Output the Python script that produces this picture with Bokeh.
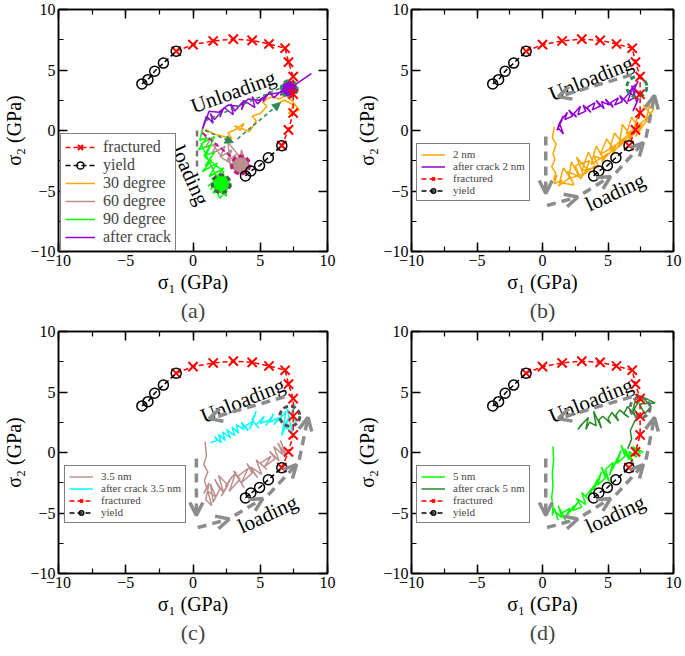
import math
from bokeh.plotting import figure
from bokeh.models import (Range1d, LinearAxis, SingleIntervalTicker, Arrow, OpenHead, NormalHead,
                          Legend, LegendItem, Title, ColumnDataSource)
from bokeh.layouts import row, column
from bokeh.embed import file_html
from bokeh.resources import INLINE
from bokeh.core.properties import value

FONT = "Liberation Serif, DejaVu Serif, serif"
NAN = float("nan")

# ---------------- common envelopes ----------------
fractured_x = [-1.25, 0.0, 1.5, 3.0, 4.4, 5.65, 6.85, 7.1, 7.45, 7.45, 7.45, 7.1, 6.6]
fractured_y = [6.55, 7.1, 7.4, 7.55, 7.45, 7.15, 6.8, 5.65, 4.45, 3.0, 1.45, 0.05, -1.25]
yield_x = [-3.8, -3.35, -2.85, -2.2, -1.25, NAN, 3.9, 4.3, 4.95, 5.6, 6.6]
yield_y = [3.85, 4.2, 4.9, 5.57, 6.55, NAN, -3.75, -3.35, -2.9, -2.25, -1.25]

# ---------------- panel (a) ----------------
a30_x = [0.9, 1.6, 2.3, 2.9, 2.6, 3.2, 3.8, 3.5, 3.1, 4.2, 4.7, 4.4, 5.0, 5.5, 5.2, 5.5, 5.9, 6.4, 6.9, 6.6, 7.4, 7.9, 7.1, 7.5, 6.8, 6.2]
a30_y = [0.1, -0.3, -0.5, -0.7, -0.2, 0.1, 0.6, 0.0, 0.4, -0.1, 0.8, 1.2, 1.4, 2.0, 2.3, 2.6, 2.8, 2.6, 2.9, 3.2, 2.4, 1.7, 1.4, 2.1, 2.5, 2.2]
a60_x = [0.6, 1.2, 0.9, 1.8, 1.4, 2.4, 2.0, 2.9, 2.5, 3.2, 2.8, 2.6, 3.0, 3.6, 3.3, 4.0, 3.4, 3.6, 3.9, 3.3, 2.2, 1.5]
a60_y = [0.0, -0.9, -1.4, -1.1, -1.9, -1.3, -2.2, -1.6, -2.6, -2.0, -3.2, -1.0, -1.5, -2.4, -3.5, -2.9, -3.3, -1.6, -2.7, -3.0, -2.3, -1.2]
a90_x = [0.7, 0.5, 1.0, 0.4, 1.3, 0.8, 1.6, 0.9, 1.4, 0.7, 1.8, 1.2, 2.3, 1.5, 2.6, 1.1, 1.9, 1.5, 2.8, 2.0, 1.7, 2.5, 2.2, 1.4, 2.0, 2.9, 2.1, 1.2, 0.6, 1.6, 0.9, 2.3, 1.3]
a90_y = [0.1, -0.8, -0.6, -1.6, -1.2, -2.1, -1.8, -2.9, -2.4, -3.4, -2.7, -3.8, -3.1, -4.2, -3.8, -4.6, -4.0, -5.2, -4.4, -5.6, -4.9, -5.4, -4.1, -3.9, -4.8, -4.6, -4.5, -2.6, -1.1, -0.5, -2.2, -3.4, -4.9]
acrack_x = [8.8, 7.6, 7.3, 7.0, 6.5, 6.8, 6.0, 5.7, 5.2, 5.5, 4.8, 4.4, 4.6, 3.9, 3.6, 3.8, 3.1, 2.8, 3.0, 2.3, 2.0, 2.2, 1.6, 1.3, 1.5, 1.0, 0.8, 0.9, 0.7, 1.2, 1.9, 2.6, 3.4, 4.1, 4.9, 5.6, 6.3, 7.0]
acrack_y = [4.7, 3.8, 3.2, 3.6, 2.9, 3.5, 2.7, 3.2, 2.4, 3.0, 2.2, 2.8, 1.9, 2.4, 1.7, 2.5, 1.6, 2.2, 1.3, 1.9, 1.1, 1.7, 0.9, 1.4, 0.6, 1.2, 0.4, 0.9, 0.1, 1.6, 1.5, 2.1, 2.0, 2.6, 2.5, 3.0, 3.1, 3.3]
# big end-point circles in (a): purple, rosy, green
a_end_x = [7.15, 3.55, 2.1]
a_end_y = [3.45, -2.85, -4.4]
# dashed guides in (a)
a_green_arrow = dict(x0=[0.9, 3.3], y0=[0.0, -0.7], x1=[3.0, 6.5], y1=[-1.0, 2.3])
a_green_line_x = [0.9, 6.9]
a_green_line_y = [0.8, 3.7]
a_pink_line_x = [0.7, 3.3]
a_pink_line_y = [-0.2, -2.6]
a_gray_line_x = [0.3, 0.3]
a_gray_line_y = [0.0, -3.3]
a_text_x = [3.0, -0.2]
a_text_y = [3.2, -3.7]
a_text = ["Unloading", "loading"]
a_text_angle_deg = [20, -66]

# ---------------- panel (b) ----------------
b2_x = [0.9, 0.75, 1.05, 0.8, 0.95, 0.7, 1.0, 0.85, 1.1, 0.9, 1.5, 1.2, 2.1, 1.6, 1.3, 2.4, 1.9, 2.8, 2.2, 2.0, 3.1, 2.6, 3.4, 2.9, 2.5, 3.6, 3.2, 4.0, 3.5, 3.0, 4.3, 3.9, 4.7, 4.1, 3.7, 5.0, 4.5, 5.4, 4.9, 4.4, 5.6, 5.2, 6.0, 5.5, 5.1, 6.3, 5.8, 6.7, 6.1, 5.9, 6.9, 6.5, 7.3, 6.8, 6.4, 7.6, 7.1, 8.0, 7.4, 7.0, 8.3, 7.7, 8.5, 7.9, 8.2]
b2_y = [0.3, -0.6, -1.1, -1.9, -2.4, -3.0, -3.5, -4.1, -3.7, -4.4, -4.1, -4.6, -3.9, -3.1, -4.3, -4.5, -3.4, -3.8, -2.6, -4.0, -3.6, -2.2, -3.2, -4.0, -2.9, -2.5, -3.6, -2.9, -1.8, -3.3, -3.0, -2.1, -2.4, -1.3, -2.8, -1.9, -2.6, -1.5, -0.7, -2.0, -1.2, -2.2, -0.9, -0.2, -1.6, -0.6, -1.4, -0.4, 0.5, -0.9, -0.1, -1.0, 0.3, 1.1, -0.3, 0.6, -0.5, 0.9, 1.6, 0.2, 1.3, 2.1, 1.8, 0.8, 2.3]
bcrack_x = [7.3, 7.0, 7.4, 6.8, 7.2, 6.9, 7.3, 6.6, 7.1, 7.0, 6.5, 6.8, 6.2, 6.5, 5.9, 6.1, 5.5, 5.8, 5.2, 5.4, 4.8, 5.1, 4.5, 4.7, 4.1, 4.4, 3.8, 4.0, 3.4, 3.7, 3.1, 3.3, 2.7, 2.9, 2.4, 2.6, 2.0, 2.3, 1.7, 1.9, 1.4, 1.6, 1.2, 1.5, 1.1, 1.3, 1.6, 1.2]
bcrack_y = [4.1, 3.4, 2.9, 3.7, 2.3, 1.6, 2.6, 3.2, 3.8, 2.7, 2.4, 3.3, 2.6, 2.2, 2.9, 2.4, 2.1, 2.7, 2.3, 1.9, 2.6, 2.1, 2.4, 1.8, 2.5, 2.0, 1.7, 2.3, 1.9, 1.5, 2.1, 1.6, 1.3, 2.0, 1.4, 1.1, 1.7, 1.2, 0.9, 1.5, 0.8, 1.2, 0.4, 0.9, 0.0, 0.6, -0.3, 0.2]
b_ring_x, b_ring_y = [7.2], [3.6]

# ---------------- panel (c) ----------------
c35_x = [0.9, 1.0, 0.8, 1.1, 0.85, 1.0, 0.8, 1.2, 0.95, 1.4, 1.1, 1.7, 1.3, 1.5, 2.0, 1.6, 2.3, 1.9, 2.6, 2.1, 2.9, 2.4, 3.2, 2.7, 3.5, 3.0, 3.8, 3.3, 4.1, 3.6, 4.4, 4.0, 4.8, 4.3, 5.1, 4.7, 5.5, 5.0, 5.8, 5.3, 6.1, 5.7, 6.4, 6.0, 6.7, 6.3, 7.0, 6.5]
c35_y = [0.9, -0.3, -1.0, -1.6, -2.3, -2.9, -3.4, -2.5, -3.9, -4.4, -3.2, -3.7, -2.6, -4.1, -3.0, -2.2, -3.4, -1.9, -2.7, -3.6, -2.0, -2.8, -1.6, -3.2, -2.2, -1.5, -2.9, -2.0, -1.3, -2.5, -1.7, -0.9, -2.1, -1.2, -1.8, -0.6, -1.4, -0.9, -0.3, -1.2, -0.5, 0.1, -0.7, 0.5, -0.2, 0.8, -0.4, 1.0]
ccrack_x = [7.6, 7.3, 7.7, 7.0, 7.4, 6.8, 7.2, 6.6, 6.9, 6.3, 6.7, 6.0, 6.4, 5.7, 6.0, 5.4, 5.7, 5.0, 5.3, 4.7, 4.9, 4.4, 4.7, 4.2, 4.5, 3.9, 4.1, 3.6, 3.8, 3.2, 3.4, 2.9, 3.1, 2.5, 2.8, 2.2, 2.4, 1.9, 2.1, 1.6, 1.8, 1.3]
ccrack_y = [4.0, 3.2, 2.5, 3.6, 1.6, 2.2, 3.0, 1.4, 3.4, 2.6, 3.1, 2.3, 2.9, 2.5, 3.2, 2.2, 2.7, 2.4, 3.0, 2.3, 2.0, 2.7, 3.4, 1.9, 2.6, 2.2, 1.8, 2.5, 1.9, 2.3, 1.6, 2.1, 1.4, 1.9, 1.2, 1.7, 1.0, 1.5, 0.8, 1.3, 1.0, 0.8]
c_ring_x, c_ring_y = [7.2], [3.0]

# ---------------- panel (d) ----------------
d5_x = [0.8, 0.85, 0.75, 0.8, 0.7, 0.8, 0.75, 0.9, 1.2, 1.0, 1.5, 1.2, 1.8, 1.5, 2.1, 1.7, 2.4, 2.0, 2.7, 2.3, 3.0, 2.6, 3.3, 3.0, 3.6, 3.3, 3.9, 3.6, 4.2, 3.9, 4.5, 4.2, 4.8, 4.5, 5.1, 4.8, 5.4, 5.1, 5.7, 5.4, 6.0, 5.7, 6.3, 6.0, 6.6, 6.3, 6.9, 6.6, 7.2, 6.9, 7.5, 7.1, 7.7]
d5_y = [0.5, -0.6, -1.7, -2.8, -3.7, -4.5, -5.2, -4.6, -5.6, -4.9, -5.4, -4.4, -5.7, -5.0, -4.6, -5.5, -4.4, -5.0, -4.1, -4.8, -4.5, -3.8, -4.3, -3.3, -4.0, -3.6, -2.8, -3.5, -2.2, -3.1, -1.6, -2.7, -2.1, -1.2, -2.4, -1.4, -0.8, -1.9, -0.5, -1.3, 0.2, -0.9, -0.3, 0.6, -0.6, 0.3, -0.9, 0.1, -0.4, 0.5, -0.1, 0.4, 0.0]
dcrack_x = [6.5, 6.8, 6.7, 7.0, 7.3, 7.0, 7.6, 8.3, 7.8, 7.4, 8.6, 7.2, 6.9, 7.1, 6.5, 6.2, 6.6, 5.9, 5.6, 5.8, 5.3, 5.0, 5.2, 4.6, 4.3, 4.5, 3.9, 4.1, 3.6, 3.3, 3.5, 2.9, 2.7, 3.0]
dcrack_y = [0.3, 1.1, 1.8, 2.5, 3.0, 3.6, 4.6, 3.8, 3.2, 4.0, 4.1, 4.8, 3.5, 3.0, 3.8, 3.2, 2.9, 3.5, 3.1, 2.6, 3.3, 2.8, 2.4, 3.0, 2.7, 2.0, 3.4, 2.2, 2.5, 1.9, 2.9, 2.2, 1.9, 2.3]
d_ring_x, d_ring_y = [7.45], [3.7]

# gray guide arrows shared by (b), (c), (d)
guide_x0 = [6.8, 0.25, 0.35, 3.1, 5.6, 7.9]
guide_y0 = [4.6, -0.5, -6.2, -5.2, -3.5, -0.6]
guide_x1 = [1.2, 0.25, 2.7, 5.2, 7.7, 8.55]
guide_y1 = [2.8, -5.2, -5.5, -3.8, -1.0, 2.9]
bcd_text_x = [3.7, 5.55]
bcd_text_y = [4.3, -5.1]
bcd_text = ["Unloading", "loading"]
bcd_text_angle_deg = [22, 25]

# colours
ORANGE, ROSY, LIME, VIOLET = "#FFA500", "#BC8F8F", "#00FF00", "#9400D3"
CYAN, DKGREEN, SEAGREEN, PINK = "#00FFFF", "#228B22", "#2E8B57", "#C71585"
GRAY = "#8C8C8C"

FH = 242


def make_fig(frame_w, left, right, tag):
    p = figure(x_range=Range1d(-10, 10), y_range=Range1d(-10, 10),
               frame_width=frame_w, frame_height=FH,
               min_border_left=left, min_border_right=right, min_border_top=9, min_border_bottom=0,
               output_backend="svg", toolbar_location=None, tools="")
    p.grid.visible = False
    p.outline_line_color = "black"
    p.outline_line_width = 1.5
    p.background_fill_color = "white"
    p.border_fill_color = "white"
    p.xaxis.axis_label = "σ₁ (GPa)"
    p.yaxis.axis_label = "σ₂ (GPa)"
    for ax in (p.xaxis[0], p.yaxis[0]):
        ax.ticker = SingleIntervalTicker(interval=5, num_minor_ticks=2)
        ax.major_tick_in = 9
        ax.major_tick_out = 0
        ax.minor_tick_in = 5
        ax.minor_tick_out = 0
        ax.axis_line_width = 1.5
        ax.major_tick_line_width = 1.5
        ax.minor_tick_line_width = 1.2
        ax.major_label_text_font = FONT
        ax.major_label_text_font_size = "16px"
        ax.major_label_text_color = "black"
        ax.axis_label_text_font = FONT
        ax.axis_label_text_font_size = "20px"
        ax.axis_label_text_font_style = "normal"
        ax.axis_label_text_color = "black"
        ax.major_label_standoff = 3
        ax.axis_label_standoff = 2
    for loc in ("right", "above"):
        ax = LinearAxis(ticker=SingleIntervalTicker(interval=5, num_minor_ticks=2),
                        major_tick_in=9, major_tick_out=0, minor_tick_in=5, minor_tick_out=0,
                        axis_line_width=1.5, major_tick_line_width=1.5, minor_tick_line_width=1.2,
                        major_label_text_font_size="6px", major_label_text_color=None,
                        major_label_standoff=0)
        p.add_layout(ax, loc)
    t = Title(text=tag, align="center", text_font=FONT, text_font_size="22px",
              text_font_style="normal", standoff=0, offset=0)
    p.add_layout(t, "below")
    return p


def add_envelopes(p):
    fl = p.line(fractured_x, fractured_y, line_color="red", line_width=1.5, line_dash="5 3")
    fs = p.scatter(fractured_x, fractured_y, marker="x", size=13, line_color="red", line_width=2)
    yl = p.line(yield_x, yield_y, line_color="black", line_width=1.5, line_dash="5 3")
    ys = p.scatter(yield_x, yield_y, marker="circle", size=10, line_color="black",
                   line_width=1.5, fill_color=None)
    return [fl, fs], [yl, ys]


def add_text(p, xs, ys, txt, angles):
    p.text(x=xs, y=ys, text=txt, angle=[math.radians(a) for a in angles],
           text_font=value(FONT), text_font_size="21px", text_align="center",
           text_baseline="middle", text_color="black")


def add_guides(p):
    src = ColumnDataSource(dict(x0=guide_x0, y0=guide_y0, x1=guide_x1, y1=guide_y1))
    p.add_layout(Arrow(x_start="x0", y_start="y0", x_end="x1", y_end="y1", source=src,
                       line_color=GRAY, line_width=3.5, line_dash="9 6",
                       end=OpenHead(size=13, line_color=GRAY, line_width=3.5)))


def make_legend(items, font, gw, gh, loc):
    lg = Legend(items=items, location=loc, border_line_color="black", border_line_width=1.5,
                background_fill_color="white", background_fill_alpha=1.0,
                label_text_font=FONT, label_text_font_size=font,
                glyph_width=gw, glyph_height=gh, label_height=gh, spacing=0,
                padding=4, margin=0, label_standoff=8)
    return lg


# ---------------- build (a) ----------------
pa = make_fig(269, 45, 26, "(a)")
r60 = pa.line(a60_x, a60_y, line_color=ROSY, line_width=1.5)
r30 = pa.line(a30_x, a30_y, line_color=ORANGE, line_width=1.5)
r90 = pa.line(a90_x, a90_y, line_color=LIME, line_width=1.5)
pa.line(a_gray_line_x, a_gray_line_y, line_color="#7F6F7F", line_width=2.5, line_dash="6 4")
pa.line(a_pink_line_x, a_pink_line_y, line_color=PINK, line_width=2, line_dash="5 3")
rac = pa.line(acrack_x, acrack_y, line_color=VIOLET, line_width=1.5)
pa.line(a_green_line_x, a_green_line_y, line_color=SEAGREEN, line_width=1.5, line_dash="4 3")
pa.add_layout(Arrow(x_start="x0", y_start="y0", x_end="x1", y_end="y1",
                    source=ColumnDataSource(a_green_arrow), line_color=SEAGREEN, line_width=1.5,
                    line_dash="4 3", end=NormalHead(size=8, fill_color=SEAGREEN, line_color=SEAGREEN)))
pa.scatter(a_end_x, a_end_y, size=[16, 18, 18], fill_color=[VIOLET, ROSY, LIME],
           line_color=[SEAGREEN, PINK, "#555555"], line_width=3, line_dash="5 3")
fa, ya = add_envelopes(pa)
add_text(pa, a_text_x, a_text_y, a_text, a_text_angle_deg)
pa.add_layout(make_legend([
    LegendItem(label="fractured", renderers=fa),
    LegendItem(label="yield", renderers=ya),
    LegendItem(label="30 degree", renderers=[r30]),
    LegendItem(label="60 degree", renderers=[r60]),
    LegendItem(label="90 degree", renderers=[r90]),
    LegendItem(label="after crack", renderers=[rac]),
], "16px", 30, 18, (2, 0)))

# ---------------- build (b) ----------------
pb = make_fig(262, 58, 9, "(b)")
rb2 = pb.line(b2_x, b2_y, line_color=ORANGE, line_width=1.5)
rbc = pb.line(bcrack_x, bcrack_y, line_color=VIOLET, line_width=1.5)
pb.scatter(b_ring_x, b_ring_y, size=20, fill_color=None, line_color=SEAGREEN, line_width=3, line_dash="5 3")
add_guides(pb)
fb, yb = add_envelopes(pb)
add_text(pb, bcd_text_x, bcd_text_y, bcd_text, bcd_text_angle_deg)
pb.add_layout(make_legend([
    LegendItem(label="2 nm", renderers=[rb2]),
    LegendItem(label="after crack 2 nm", renderers=[rbc]),
    LegendItem(label="fractured", renderers=fb),
    LegendItem(label="yield", renderers=yb),
], "11px", 24, 11, (5, 50)))

# ---------------- build (c) ----------------
pc = make_fig(269, 45, 26, "(c)")
rc3 = pc.line(c35_x, c35_y, line_color=ROSY, line_width=1.5)
rcc = pc.line(ccrack_x, ccrack_y, line_color=CYAN, line_width=1.5)
pc.scatter(c_ring_x, c_ring_y, size=20, fill_color=None, line_color="#505050", line_width=3, line_dash="5 3")
add_guides(pc)
fc, yc = add_envelopes(pc)
add_text(pc, bcd_text_x, bcd_text_y, bcd_text, bcd_text_angle_deg)
pc.add_layout(make_legend([
    LegendItem(label="3.5 nm", renderers=[rc3]),
    LegendItem(label="after crack 3.5 nm", renderers=[rcc]),
    LegendItem(label="fractured", renderers=fc),
    LegendItem(label="yield", renderers=yc),
], "11px", 24, 11, (6, 50)))

# ---------------- build (d) ----------------
pd_ = make_fig(262, 58, 9, "(d)")
rd5 = pd_.line(d5_x, d5_y, line_color=LIME, line_width=1.5)
rdc = pd_.line(dcrack_x, dcrack_y, line_color=DKGREEN, line_width=1.5)
pd_.scatter(d_ring_x, d_ring_y, size=20, fill_color=None, line_color="#707070", line_width=3, line_dash="5 3")
add_guides(pd_)
fd, yd = add_envelopes(pd_)
add_text(pd_, bcd_text_x, bcd_text_y, bcd_text, bcd_text_angle_deg)
pd_.add_layout(make_legend([
    LegendItem(label="5 nm", renderers=[rd5]),
    LegendItem(label="after crack 5 nm", renderers=[rdc]),
    LegendItem(label="fractured", renderers=fd),
    LegendItem(label="yield", renderers=yd),
], "11px", 24, 11, (5, 50)))

layout = column(row(pa, pb), row(pc, pd_))
open("out.html", "w").write(file_html(layout, INLINE))
